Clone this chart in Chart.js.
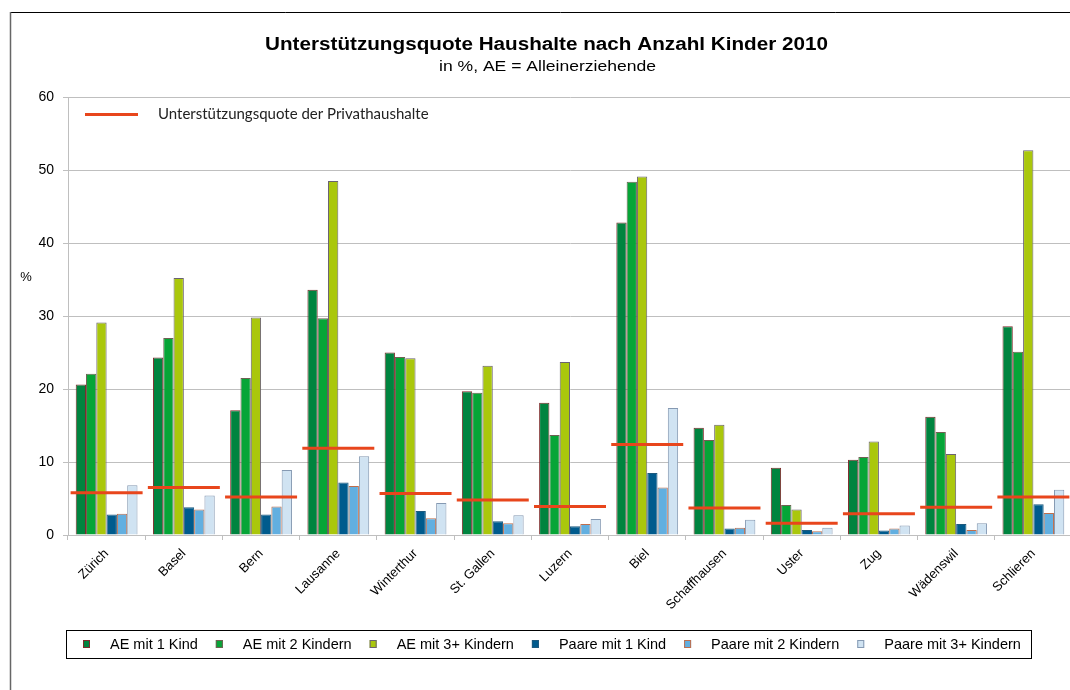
<!DOCTYPE html>
<html><head><meta charset="utf-8">
<script src="https://cdn.jsdelivr.net/npm/chart.js@4"></script>
<style>html,body{margin:0;padding:0;overflow:hidden;background:#fff}canvas{display:block}</style>
</head><body>
<canvas id="c" width="1111" height="690"></canvas>
<script>
const categories = ["Zürich","Basel","Bern","Lausanne","Winterthur","St. Gallen","Luzern","Biel","Schaffhausen","Uster","Zug","Wädenswil","Schlieren"];
const aeMit1Kind   = [20.6,24.3,17.1,33.6,25.0,19.7,18.1,42.8,14.7,9.2,10.3,16.2,28.6];
const aeMit2Kindern = [22.1,27.0,21.5,29.7,24.4,19.5,13.7,48.4,13.0,4.1,10.7,14.1,25.1];
const aeMit3Kindern = [29.1,35.2,29.8,48.5,24.2,23.2,23.7,49.1,15.1,3.5,12.8,11.1,52.7];
const paareMit1Kind = [2.8,3.8,2.8,7.2,3.3,1.9,1.2,8.5,0.9,0.7,0.6,1.5,4.2];
const paareMit2Kindern = [2.9,3.5,3.9,6.7,2.3,1.6,1.5,6.5,1.0,0.5,0.9,0.7,3.0];
const paareMit3Kindern = [6.8,5.4,8.9,10.8,4.4,2.7,2.2,17.4,2.1,1.0,1.3,1.6,6.2];
const quotePrivathaushalte = [5.8,6.5,5.2,11.9,5.7,4.8,3.9,12.4,3.7,1.6,2.9,3.8,5.2];
const yTicks = [0,10,20,30,40,50,60];

const SANS = '"Liberation Sans", Arial, sans-serif';

function barDs(label, data, bg, border) {
  return { type: 'bar', label, data, backgroundColor: bg, borderColor: border, borderWidth: 1, order: 1,
           categoryPercentage: 0.8, barPercentage: 1.0 };
}

function stretchedText(ctx, text, cx, cy, targetWidth) {
  const w = ctx.measureText(text).width;
  const s = targetWidth / w;
  ctx.save();
  ctx.translate(cx, cy);
  ctx.scale(s, 1);
  ctx.textAlign = 'center';
  ctx.fillText(text, 0, 0);
  ctx.restore();
}

const decor = {
  id: 'decor',
  beforeDraw(chart) {
    const ctx = chart.ctx;
    ctx.save();
    ctx.fillStyle = '#fff';
    ctx.fillRect(0, 0, chart.width, chart.height);
    ctx.lineWidth = 1;
    ctx.strokeStyle = '#000';
    ctx.beginPath();
    ctx.moveTo(10, 12.5); ctx.lineTo(1111, 12.5);
    ctx.stroke();
    ctx.strokeStyle = '#666';
    ctx.lineWidth = 1.5;
    ctx.beginPath();
    ctx.moveTo(10.5, 700); ctx.lineTo(10.5, 12);
    ctx.stroke();
    ctx.restore();
  },
  afterDraw(chart) {
    const ctx = chart.ctx;
    ctx.save();
    ctx.fillStyle = '#000';
    ctx.textBaseline = 'middle';
    ctx.font = 'bold 18px ' + SANS;
    stretchedText(ctx, 'Unterstützungsquote Haushalte nach Anzahl Kinder 2010', 546.5, 45, 563);
    ctx.font = '15px ' + SANS;
    stretchedText(ctx, 'in %, AE = Alleinerziehende', 547.5, 67, 217);
    ctx.textAlign = 'center';
    ctx.font = '13px ' + SANS;
    ctx.fillText('%', 26, 277);

    // inner legend for the line dataset
    const lineDs = chart.data.datasets.find(d => d.type === 'line');
    ctx.strokeStyle = lineDs.pointBorderColor;
    ctx.lineWidth = 3;
    ctx.beginPath(); ctx.moveTo(85, 114.5); ctx.lineTo(138, 114.5); ctx.stroke();
    ctx.textAlign = 'left';
    ctx.fillStyle = '#222';
    ctx.font = '15px Lato, "Open Sans", sans-serif';
    ctx.fillText(lineDs.label, 158, 114);

    // bottom legend
    ctx.strokeStyle = '#000';
    ctx.lineWidth = 1;
    ctx.strokeRect(66.5, 630.5, 965, 28);
    ctx.font = '14.5px ' + SANS;
    const bars = chart.data.datasets.filter(d => d.type === 'bar');
    let x = 83;
    bars.forEach(d => {
      ctx.fillStyle = d.backgroundColor;
      ctx.fillRect(x, 640, 7, 8);
      ctx.strokeStyle = d.borderColor;
      ctx.strokeRect(x + 0.5, 640.5, 6, 7);
      ctx.fillStyle = '#000';
      ctx.fillText(d.label, x + 27, 644.5);
      x += 27 + ctx.measureText(d.label).width + 18;
    });
    ctx.restore();
  }
};

new Chart(document.getElementById('c'), {
  type: 'bar',
  data: {
    labels: categories,
    datasets: [
      barDs('AE mit 1 Kind', aeMit1Kind, '#00843F', '#7E2C2C'),
      barDs('AE mit 2 Kindern', aeMit2Kindern, '#06A537', '#6E6152'),
      barDs('AE mit 3+ Kindern', aeMit3Kindern, '#AAC70C', '#6A6272'),
      barDs('Paare mit 1 Kind', paareMit1Kind, '#005B8D', '#1E5A7E'),
      barDs('Paare mit 2 Kindern', paareMit2Kindern, '#62AFE0', '#BF6E4C'),
      barDs('Paare mit 3+ Kindern', paareMit3Kindern, '#D0E3F2', '#8599B2'),
      { type: 'line', label: 'Unterstützungsquote der Privathaushalte', data: quotePrivathaushalte,
        showLine: false, pointStyle: 'line', pointRadius: 36, pointHoverRadius: 36,
        pointBorderWidth: 3, pointHoverBorderWidth: 3,
        pointBorderColor: '#E8461C', borderColor: '#E8461C', backgroundColor: '#E8461C', order: 0 }
    ]
  },
  options: {
    responsive: false,
    animation: false,
    devicePixelRatio: 1,
    layout: { padding: { left: 0, top: 97, right: 27, bottom: 0 } },
    plugins: { legend: { display: false }, title: { display: false }, tooltip: { enabled: false } },
    events: [],
    scales: {
      x: {
        offset: true,
        grid: { offset: true, drawOnChartArea: false, drawTicks: true, tickLength: 5, color: '#BFBFBF' },
        border: { color: '#BFBFBF' },
        ticks: { minRotation: 45, maxRotation: 45, autoSkip: false, padding: 6, color: '#000',
                 font: { family: SANS, size: 13 } },
        afterFit(s) { s.height = 155; }
      },
      y: {
        min: 0, max: 60,
        afterBuildTicks(s) { s.ticks = yTicks.map(v => ({ value: v })); },
        grid: { color: '#BFBFBF', tickLength: 5, drawTicks: true },
        border: { color: '#BFBFBF' },
        ticks: { padding: 9, color: '#000', font: { family: SANS, size: 14 } },
        afterFit(s) { s.width = 68; }
      }
    }
  },
  plugins: [decor]
});
</script>
</body></html>
